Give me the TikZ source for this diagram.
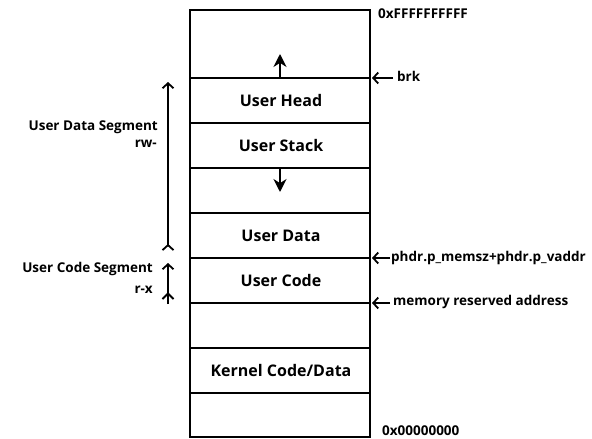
\documentclass[tikz,border=0pt]{standalone}
\usepackage{fontspec}
\setmainfont{Open Sans}
\usetikzlibrary{arrows.meta}
\begin{document}
\begin{tikzpicture}[x=1pt,y=-1pt,
  box/.style={draw,line width=2pt},
  lbl/.style={font=\bfseries\fontsize{16}{18}\selectfont},
  slbl/.style={font=\bfseries\fontsize{13.5}{15}\selectfont,inner sep=0pt},
  ptr/.style={line width=1.8pt,-{Straight Barb[length=5pt,width=11pt]}},
  growarrow/.style={line width=2pt,-{Stealth[length=13pt,width=13pt]}},
  seg/.style={line width=1.8pt,{Straight Barb[reversed,length=5pt,width=11pt]}-{Straight Barb[length=5pt,width=11pt]}}]
\useasboundingbox (0,0) rectangle (592,439);
\draw[box] (190,10) rectangle (370,437);
\foreach \y in {78,123,168,213,258,303,348,393}
  \draw[box] (190,\y) -- (370,\y);
\node[lbl] (head) at (281,100.5) {User Head};
\node[lbl] (stack) at (281,145.5) {User Stack};
\node[lbl] (data) at (281,235.5) {User Data};
\node[lbl] (code) at (281,280.5) {User Code};
\node[lbl] (kern) at (281,370.5) {Kernel Code/Data};
\coordinate (hb) at (280,78);
\coordinate (ht) at (280,54);
\draw[growarrow] (hb) -- (ht);
\coordinate (sb) at (280,168);
\coordinate (st) at (280,192);
\draw[growarrow] (sb) -- (st);
% right labels
\node[slbl,anchor=west] (top) at (378,14) {0xFFFFFFFFFF};
\node[slbl,anchor=west] (bot) at (382,431) {0x00000000};
\node[slbl,anchor=west] (brk) at (397,76) {brk};
\node[slbl,anchor=west] (ph) at (391,258) {phdr.p\_memsz+phdr.p\_vaddr};
\node[slbl,anchor=west] (mem) at (393,302) {memory reserved address};
\coordinate (b1) at (372,78);
\coordinate (b2) at (372,258);
\coordinate (b3) at (372,303);
\draw[ptr] (brk.west) ++(-4,2) -- (b1);
\draw[ptr] (ph.west) ++(-1,0) -- (b2);
\draw[ptr] (mem.west) ++(-3,1) -- (b3);
% left segments
\coordinate (d1) at (168,251);
\coordinate (d2) at (168,82);
\draw[seg] (d1) -- (d2);
\coordinate (c1) at (168,304);
\coordinate (c2) at (168,263);
\draw[line width=1.8pt,-{Straight Barb[length=5pt,width=11pt]}] (c1) -- (c2);
\draw[line width=1.8pt] (162.5,299) -- (168,293.5) -- (173.5,299);
\node[slbl,anchor=east] (uds) at (158,127) {User Data Segment};
\node[slbl,anchor=east] (rw) at (157,144) {rw-};
\node[slbl,anchor=east] (ucs) at (153,269) {User Code Segment};
\node[slbl,anchor=east] (rx) at (153,290) {r-x};
\end{tikzpicture}
\end{document}
